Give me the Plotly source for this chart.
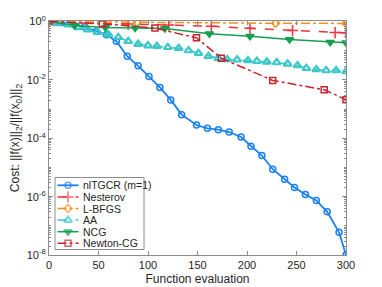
import plotly.graph_objects as go

# ---- data ----
x_tgcr = [0, 12, 24, 36, 48, 58, 68, 79, 90, 101, 112, 123, 134, 149, 160, 171, 182, 194,
          204, 215, 226, 238, 248, 259, 270, 281, 293, 300]
y_tgcr = [1, 0.93, 0.83, 0.66, 0.455, 0.351, 0.212, 0.0652, 0.0305, 0.0132, 5.55e-3, 2.07e-3,
          6.46e-4, 2.85e-4, 2.20e-4, 1.98e-4, 1.64e-4, 1.11e-4, 5.32e-5, 2.56e-5, 8.71e-6,
          3.96e-6, 2.07e-6, 1.19e-6, 7.41e-7, 3.02e-7, 5.97e-8, 1.0e-8]

x_nest = [0, 38, 80, 121, 164, 203, 246, 289, 300]
y_nest = [1, 0.889, 0.822, 0.759, 0.686, 0.586, 0.492, 0.421, 0.411]

x_lbfgs = [0, 89, 229, 300]
y_lbfgs = [1, 0.939, 0.875, 0.867]

x_aa = [0, 8, 19, 29, 39, 49, 60, 70, 80, 90, 100, 109, 120, 131, 141, 151, 161, 171, 180,
        190, 201, 210, 220, 230, 241, 251, 260, 270, 280, 290, 300]
y_aa = [1, 0.875, 0.789, 0.638, 0.532, 0.438, 0.360, 0.290, 0.212, 0.170, 0.151, 0.143, 0.132,
        0.122, 0.102, 0.0824, 0.0652, 0.0556, 0.0502, 0.0491, 0.0465, 0.0440, 0.0419, 0.0396,
        0.0358, 0.0313, 0.0253, 0.0229, 0.0211, 0.0211, 0.0195]

x_ncg = [0, 26, 57, 87, 117, 162, 203, 243, 284, 300]
y_ncg = [1, 0.730, 0.624, 0.600, 0.577, 0.380, 0.314, 0.243, 0.196, 0.187]

x_ncg2 = [0, 54, 107, 149, 174, 226, 278, 300]
y_ncg2 = [1, 0.834, 0.600, 0.277, 0.0556, 0.00962, 0.00462, 0.0021]

x_ticks = [0, 50, 100, 150, 200, 250, 300]
y_tickvals = [1, 1e-2, 1e-4, 1e-6, 1e-8]
y_ticktext = ["10<sup>0</sup>", "10<sup>-2</sup>", "10<sup>-4</sup>", "10<sup>-6</sup>",
              "10<sup>-8</sup>"]

FONT = "Liberation Sans, Arial, sans-serif"
AX = "#8c8c8c"
TXT = "#262626"

# layout constants (page pixels; the page body adds an 8 px offset)
OFF = 8
PL, PR, PT, PB = 49, 346, 21, 255          # plot area on the page
W, H = 382 - OFF, 287 - OFF
PW, PH = PR - PL, PB - PT
ML, MT = PL - OFF, PT - OFF
MR, MB = W - ML - PW, H - MT - PH

fig = go.Figure()

series = [
    ("nlTGCR (m=1)", x_tgcr, y_tgcr, "#1a80f0", "solid", "circle-open", 6, 1.8, 1.5),
    ("Nesterov", x_nest, y_nest, "#f0323c", "dash", "cross-thin-open", 8, 1.5, 1.5),
    ("L-BFGS", x_lbfgs, y_lbfgs, "#f7901e", "dashdot", "diamond-open", 6, 1.5, 1.5),
    ("AA", x_aa, y_aa, "#3cc8c8", "dash", "triangle-up-open", 7, 1.5, 2.2),
    ("NCG", x_ncg, y_ncg, "#14a050", "solid", "triangle-down", 7, 1.5, 1.5),
    ("Newton-CG", x_ncg2, y_ncg2, "#c8232d", "dashdot", "square-open", 6, 1.5, 1.5),
]
for name, xs, ys, col, dash, sym, ms, lw, mw in series:
    fig.add_trace(go.Scatter(
        x=xs, y=ys, name=name, mode="lines+markers", showlegend=False,
        line=dict(color=col, width=lw, dash=dash),
        marker=dict(symbol=sym, size=ms, color=col, line=dict(color=col, width=mw)),
    ))

# invisible trace on overlay axis for minor log ticks
fig.add_trace(go.Scatter(x=[0], y=[1], yaxis="y2", showlegend=False,
                         mode="markers", marker=dict(opacity=0), hoverinfo="skip"))

# ---- compact legend (MATLAB-like), drawn on a pixel-unit overlay axis ----
LG_L, LG_R, LG_T, LG_B = 55, 144, 177.5, 249.5   # box in page pixels
ROW0, ROWH = 185.3, 11.6
S0, S1, TX = 57.5, 78.5, 80.5
annotations = []
for i, (name, xs, ys, col, dash, sym, ms, lw, mw) in enumerate(series):
    yc = ROW0 + i * ROWH
    fig.add_trace(go.Scatter(
        x=[S0 - PL, (S0 + S1) / 2 - PL, S1 - PL], y=[yc - PT] * 3,
        xaxis="x2", yaxis="y3", mode="lines+markers", showlegend=False, hoverinfo="skip",
        line=dict(color=col, width=lw, dash=dash),
        marker=dict(symbol=sym, size=[0, ms, 0], color=col, line=dict(color=col, width=mw)),
    ))
    annotations.append(dict(
        text=name, xref="paper", yref="paper", x=(TX - PL) / PW,
        y=(PB - yc) / PH, xanchor="left", yanchor="middle",
        showarrow=False, font=dict(size=10.5, family=FONT, color=TXT)))

yr = [-8, 0.02]
fig.update_layout(
    width=W, height=H,
    margin=dict(l=ML, r=MR, t=MT, b=MB, autoexpand=False),
    paper_bgcolor="white", plot_bgcolor="white",
    font=dict(family=FONT, size=11, color=TXT),
    showlegend=False,
    annotations=annotations,
    shapes=[dict(type="rect", xref="paper", yref="paper",
                 x0=(LG_L - PL) / PW, x1=(LG_R - PL) / PW,
                 y0=(PB - LG_B) / PH, y1=(PB - LG_T) / PH,
                 line=dict(color=AX, width=1), fillcolor="white", layer="below")],
    xaxis=dict(range=[0, 300], tickvals=x_ticks, ticks="inside", ticklen=4,
               tickcolor=AX, showline=True, linecolor=AX, linewidth=1, mirror="ticks",
               showgrid=False, zeroline=False, automargin=False,
               title=dict(text="Function evaluation", font=dict(size=12, color=TXT), standoff=4),
               tickfont=dict(size=11, color=TXT)),
    yaxis=dict(type="log", range=yr, tickvals=y_tickvals, ticktext=y_ticktext,
               ticks="inside", ticklen=4, tickcolor=AX, showline=True, linecolor=AX,
               linewidth=1, mirror="ticks", showgrid=False, zeroline=False, automargin=False,
               title=dict(text="Cost: ||f(x)||<sub>2</sub>/||f(x<sub>0</sub>)||<sub>2</sub>",
                          font=dict(size=12, color=TXT), standoff=6),
               tickfont=dict(size=11, color=TXT)),
    yaxis2=dict(type="log", range=yr, overlaying="y", dtick="D1", ticks="inside",
                ticklen=2, tickcolor=AX, showticklabels=False, showgrid=False,
                zeroline=False, showline=True, linecolor=AX, mirror="ticks", automargin=False),
    xaxis2=dict(overlaying="x", range=[0, PW], visible=False),
    yaxis3=dict(overlaying="y", range=[PH, 0], visible=False),
)

fig.write_html("out.html")
